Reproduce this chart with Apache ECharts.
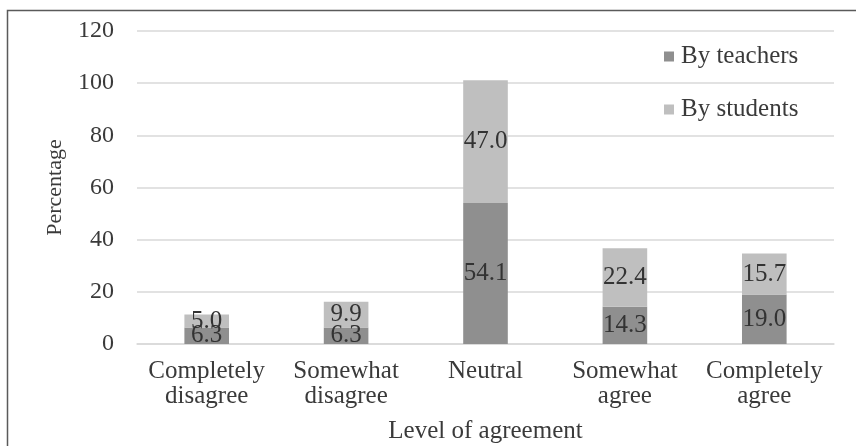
<!DOCTYPE html>
<html>
<head>
<meta charset="utf-8">
<script src="https://cdn.jsdelivr.net/npm/echarts@6/dist/echarts.min.js"></script>
<style>
  html, body { margin: 0; padding: 0; background: #fff; }
  #chart { width: 856px; height: 446px; }
</style>
</head>
<body>
<div id="chart"></div>
<script>
// Agreement levels on the category axis
const categories = ['Completely\ndisagree', 'Somewhat\ndisagree', 'Neutral', 'Somewhat\nagree', 'Completely\nagree'];
// Percentages per group (stacked)
const teachers = [6.3, 6.3, 54.1, 14.3, 19.0];
const students = [5.0, 9.9, 47.0, 22.4, 15.7];
const seriesNames = ['By teachers', 'By students'];
const yTicks = [0, 20, 40, 60, 80, 100, 120];

const FONT = '"Liberation Serif", "Times New Roman", serif';
const TEXT = '#3a3a3a';

const chart = echarts.init(document.getElementById('chart'), null, { renderer: 'canvas' });

const labelStyle = {
  show: true,
  position: 'inside',
  fontFamily: FONT,
  fontSize: 25,
  color: '#333333',
  padding: [4, 0, 0, 0],
  formatter: p => p.value.toFixed(1)
};

chart.setOption({
  animation: false,
  backgroundColor: '#ffffff',
  graphic: [{
    type: 'rect',
    shape: { x: 7.5, y: 10.5, width: 900, height: 500 },
    style: { fill: 'none', stroke: '#5a5a5a', lineWidth: 1.5 },
    silent: true
  }],
  grid: { left: 137, right: 22, top: 31, bottom: 102, containLabel: false, outerBoundsMode: 'none' },
  legend: {
    orient: 'vertical',
    left: 659,
    top: 39,
    itemWidth: 10,
    itemHeight: 10,
    itemGap: 28,
    icon: 'rect',
    data: seriesNames,
    textStyle: { fontFamily: FONT, fontSize: 25, color: TEXT, padding: [0, 0, 0, 2] }
  },
  xAxis: {
    type: 'category',
    data: categories,
    name: 'Level of agreement',
    nameLocation: 'middle',
    nameGap: 75,
    nameTextStyle: { fontFamily: FONT, fontSize: 25, color: TEXT },
    axisLine: { show: true, lineStyle: { color: '#d9d9d9', width: 1.5 } },
    axisTick: { show: false },
    axisLabel: { fontFamily: FONT, fontSize: 25, color: TEXT, lineHeight: 25, margin: 15, interval: 0 }
  },
  yAxis: {
    type: 'value',
    min: yTicks[0],
    max: yTicks[yTicks.length - 1],
    interval: 20,
    name: 'Percentage',
    nameLocation: 'middle',
    nameGap: 71,
    nameTextStyle: { fontFamily: FONT, fontSize: 22, color: TEXT },
    axisLine: { show: false },
    axisTick: { show: false },
    axisLabel: { fontFamily: FONT, fontSize: 24, color: TEXT, margin: 23 },
    splitLine: { lineStyle: { color: '#d9d9d9', width: 1.5 } }
  },
  series: [
    {
      name: seriesNames[0],
      type: 'bar',
      stack: 'total',
      data: teachers,
      barWidth: '32%',
      itemStyle: { color: '#8f8f8f' },
      label: labelStyle
    },
    {
      name: seriesNames[1],
      type: 'bar',
      stack: 'total',
      data: students,
      barWidth: '32%',
      itemStyle: { color: '#bfbfbf' },
      label: labelStyle
    }
  ]
});
</script>
</body>
</html>
